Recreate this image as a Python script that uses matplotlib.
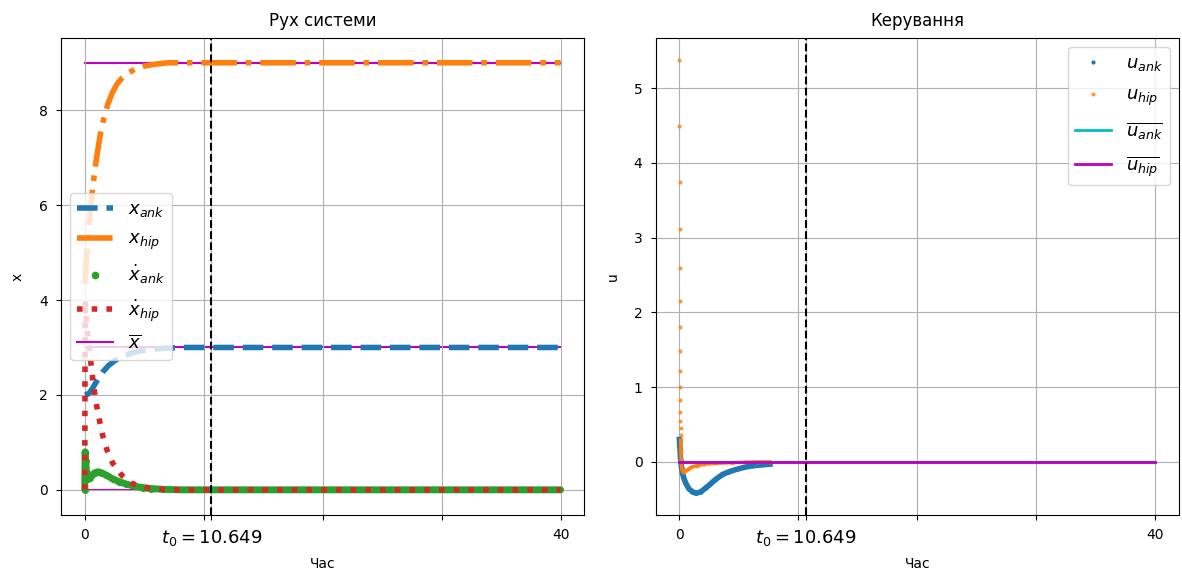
import numpy as np
import matplotlib
matplotlib.use('Agg')
import matplotlib.pyplot as plt

# ==========================================================
# Дані
# ==========================================================
t0 = 10.649
t_end = 40

# положення
t_x_ank = [0, 0.2, 0.42, 0.6, 0.84, 1.1, 1.5, 2.0, 2.5, 3.0, 3.8, 4.5, 5.2, 6.5, 8, 40]
x_ank = [2.0, 2.01, 2.05, 2.12, 2.22, 2.33, 2.48, 2.62, 2.72, 2.79, 2.87, 2.92, 2.95, 2.98, 3.0, 3.0]

t_x_hip = [0, 0.15, 0.3, 0.45, 0.67, 0.9, 1.1, 1.3, 1.5, 1.9, 2.3, 2.7, 3.1, 3.6, 4.2, 5.0, 5.9, 7.0, 40]
x_hip = [4.34, 4.9, 5.4, 5.85, 6.38, 6.84, 7.17, 7.48, 7.73, 8.1, 8.36, 8.55, 8.67, 8.78, 8.86, 8.93, 8.97, 9.0, 9.0]

# швидкості
t_xd_ank = [0, 0.01, 0.02, 0.03, 0.08, 0.15, 0.25, 0.4, 0.6, 0.85, 1.1, 1.4, 1.8, 2.35, 2.9, 3.5,
            4.2, 4.9, 5.6, 6.6, 8, 40]
xd_ank = [0.0, 0.3, 0.55, 0.8, 0.6, 0.35, 0.22, 0.25, 0.31, 0.36, 0.38, 0.36, 0.31, 0.23, 0.17, 0.12,
          0.075, 0.045, 0.025, 0.01, 0.0, 0.0]

t_xd_hip = [0, 0.03, 0.1, 0.2, 0.3, 0.67, 0.84, 1.0, 1.26, 1.5, 1.85, 2.35, 3.1, 4.0, 5.3, 6.6, 8, 40]
xd_hip = [0.0, 4.0, 3.7, 3.4, 3.15, 2.33, 2.03, 1.77, 1.43, 1.15, 0.85, 0.56, 0.31, 0.13, 0.04, 0.01, 0.0, 0.0]

# бажані положення
x_bar_levels = [0, 3, 9]

# керування
t_u_ank = [0, 0.02, 0.05, 0.1, 0.18, 0.25, 0.4, 0.55, 0.8, 1.1, 1.4, 1.8, 2.2, 2.5, 3.0, 3.6,
           4.2, 4.8, 5.5, 6.2, 6.9, 7.6]
u_ank = [0.3, 0.25, 0.18, 0.03, -0.08, -0.15, -0.23, -0.29, -0.36, -0.4, -0.42, -0.4, -0.35, -0.31,
         -0.24, -0.17, -0.13, -0.1, -0.07, -0.05, -0.04, -0.03]

t_u_hip = [0, 0.005, 0.01, 0.015, 0.05, 0.055, 0.06, 0.065, 0.07, 0.075, 0.08, 0.085, 0.09, 0.095,
           0.1, 0.105, 0.12, 0.15, 0.2, 0.3, 0.5, 0.75, 1.0, 1.5, 2.1, 3.0, 4.4, 5.5, 6.5, 7.6]
u_hip = [5.38, 4.5, 3.75, 3.12, 2.6, 2.15, 1.8, 1.48, 1.21, 1.0, 0.83, 0.67, 0.55, 0.45,
         0.36, 0.29, 0.15, 0.0, -0.1, -0.13, -0.12, -0.1, -0.07, -0.05, -0.03, -0.02, -0.01, -0.005, 0.0, 0.0]
u_hip_cont = 15  # з цього індексу точки йдуть щільно

u_bar_ank = 0
u_bar_hip = 0

xticks = [0, 10, 20, 30, 40, t0]
xtick_labels = ['0', '', '', '', '40', f'$t_0 = {t0}$']

# ==========================================================
# PLOT
# ==========================================================
fig, (ax1, ax2) = plt.subplots(1, 2, figsize=(11.82, 5.77), dpi=100)
fig.subplots_adjust(left=0.0516, right=0.9975, bottom=0.1075, top=0.934, wspace=0.136)


def decorate(ax, title, ylabel):
    ax.axvline(t0, color='k', ls='--', lw=1.5)
    ax.set_xticks(xticks)
    ax.set_xticklabels(xtick_labels)
    ax.get_xticklabels()[-1].set_fontsize(13)
    ax.tick_params(pad=6)
    ax.grid(True)
    ax.set_title(title, pad=9)
    ax.set_xlabel('Час', labelpad=6)
    ax.set_ylabel(ylabel, labelpad=10)


# --- Рух системи ---
ax1.plot(t_x_ank, x_ank, '--', color='C0', lw=4, label='$x_{ank}$')
ax1.plot(t_x_hip, x_hip, '-.', color='C1', lw=4, label='$x_{hip}$')
ax1.plot(t_xd_ank, xd_ank, '-', color='C2', lw=5, solid_capstyle='round')
ax1.plot(t_xd_ank[:20], xd_ank[:20], 'o', color='C2', ms=4)
ax1.plot([], [], 'o', color='C2', ms=4.5, label=r'$\dot{x}_{ank}$')
ax1.plot(t_xd_hip, xd_hip, ':', color='C3', lw=4, label=r'$\dot{x}_{hip}$')
for i, lvl in enumerate(x_bar_levels):
    ax1.plot([0, t_end], [lvl, lvl], color='m', lw=1.5, zorder=1.5,
             label=r'$\overline{x}$' if i == 1 else None)
ax1.set_ylim(-0.53, 9.52)
decorate(ax1, 'Рух системи', 'x')
ax1.legend(loc='center left', fontsize=13, labelspacing=0.6)

# --- Керування ---
ax2.plot(t_u_ank, u_ank, '-', color='C0', lw=4)
ax2.plot(t_u_ank, u_ank, '.', color='C0', ms=4, label='$u_{ank}$')
ax2.plot(t_u_hip[u_hip_cont:], u_hip[u_hip_cont:], '-', color='C1', lw=2.5)
ax2.plot(t_u_hip, u_hip, '.', color='C1', ms=4, alpha=0.7, label='$u_{hip}$')
ax2.plot([0, t_end], [u_bar_ank, u_bar_ank], color='c', lw=2, label=r'$\overline{u_{ank}}$')
ax2.plot([0, t_end], [u_bar_hip, u_bar_hip], color='m', lw=2, label=r'$\overline{u_{hip}}$')
decorate(ax2, 'Керування', 'u')
ax2.legend(loc='upper right', fontsize=13, labelspacing=0.7)

plt.savefig('out.png', dpi=100)
